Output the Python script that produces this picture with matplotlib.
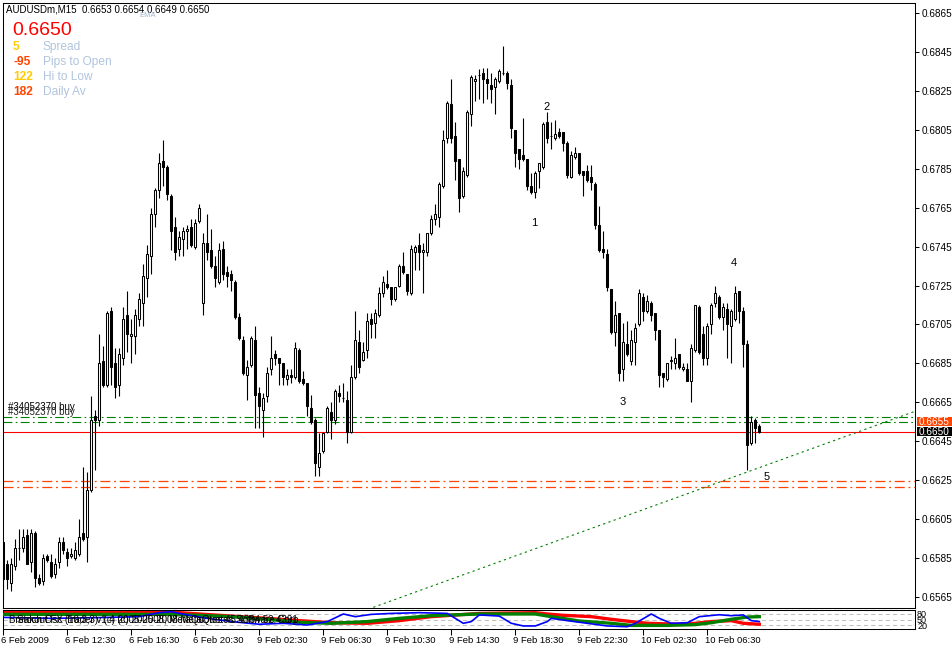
import matplotlib
matplotlib.use("Agg")
import matplotlib.pyplot as plt
import matplotlib.transforms as mtransforms
from matplotlib.patches import Rectangle
import numpy as np

plt.rcParams['font.family'] = ['Liberation Sans', 'DejaVu Sans']

# AUDUSDm M15 candles (bar 0 = 6 Feb 2009 08:30)
opens = [
    0.6593, 0.6582, 0.6572, 0.6581, 0.6590, 0.6590, 0.6597, 0.6583, 0.6598, 0.6575,
    0.6573, 0.6586, 0.6583, 0.6577, 0.6583, 0.6593, 0.6588, 0.6586, 0.6585, 0.6587,
    0.6598, 0.6596, 0.6620, 0.6658, 0.6656, 0.6686, 0.6674, 0.6712, 0.6685, 0.6674,
    0.6688, 0.6710, 0.6699, 0.6699, 0.6708, 0.6716, 0.6729, 0.6740, 0.6762, 0.6774,
    0.6789, 0.6786, 0.6771, 0.6755, 0.6744, 0.6749, 0.6753, 0.6755, 0.6745, 0.6758,
    0.6716, 0.6747, 0.6743, 0.6735, 0.6727, 0.6744, 0.6732, 0.6731, 0.6727, 0.6709,
    0.6697, 0.6679, 0.6684, 0.6697, 0.6670, 0.6661, 0.6668, 0.6682, 0.6690, 0.6688,
    0.6685, 0.6677, 0.6679, 0.6678, 0.6692, 0.6677, 0.6675, 0.6662, 0.6656, 0.6632,
    0.6640, 0.6650, 0.6660, 0.6656, 0.6670, 0.6667, 0.6666, 0.6650, 0.6678, 0.6696,
    0.6687, 0.6692, 0.6708, 0.6706, 0.6710, 0.6721, 0.6726, 0.6724, 0.6718, 0.6725,
    0.6735, 0.6731, 0.6721, 0.6742, 0.6746, 0.6742, 0.6742, 0.6752, 0.6759, 0.6760,
    0.6776, 0.6801, 0.6818, 0.6802, 0.6790, 0.6771, 0.6782, 0.6813, 0.6830, 0.6833,
    0.6834, 0.6831, 0.6828, 0.6827, 0.6830, 0.6834, 0.6834, 0.6828, 0.6805, 0.6795,
    0.6792, 0.6790, 0.6776, 0.6773, 0.6784, 0.6786, 0.6809, 0.6802, 0.6801, 0.6804,
    0.6804, 0.6798, 0.6781, 0.6791, 0.6793, 0.6784, 0.6784, 0.6781, 0.6777, 0.6756,
    0.6744, 0.6741, 0.6723, 0.6701, 0.6711, 0.6682, 0.6695, 0.6686, 0.6696, 0.6705,
    0.6719, 0.6712, 0.6716, 0.6711, 0.6702, 0.6680, 0.6677, 0.6686, 0.6685, 0.6690,
    0.6682, 0.6682, 0.6676, 0.6692, 0.6714, 0.6700, 0.6688, 0.6705, 0.6716, 0.6719,
    0.6709, 0.6713, 0.6704, 0.6708, 0.6722, 0.6712, 0.6695, 0.6644, 0.6656, 0.6653]
highs = [
    0.6593, 0.6584, 0.6585, 0.6595, 0.6600, 0.6600, 0.6600, 0.6600, 0.6599, 0.6577,
    0.6587, 0.6587, 0.6587, 0.6585, 0.6596, 0.6596, 0.6590, 0.6590, 0.6593, 0.6605,
    0.6632, 0.6629, 0.6668, 0.6661, 0.6700, 0.6694, 0.6712, 0.6714, 0.6693, 0.6693,
    0.6714, 0.6722, 0.6708, 0.6713, 0.6721, 0.6736, 0.6746, 0.6765, 0.6775, 0.6793,
    0.6800, 0.6787, 0.6772, 0.6760, 0.6753, 0.6755, 0.6756, 0.6759, 0.6759, 0.6767,
    0.6752, 0.6762, 0.6754, 0.6740, 0.6747, 0.6748, 0.6735, 0.6733, 0.6728, 0.6711,
    0.6699, 0.6687, 0.6699, 0.6704, 0.6673, 0.6670, 0.6683, 0.6699, 0.6692, 0.6688,
    0.6685, 0.6682, 0.6682, 0.6696, 0.6693, 0.6681, 0.6675, 0.6669, 0.6657, 0.6649,
    0.6650, 0.6663, 0.6665, 0.6672, 0.6674, 0.6675, 0.6671, 0.6684, 0.6712, 0.6702,
    0.6696, 0.6711, 0.6711, 0.6713, 0.6724, 0.6730, 0.6733, 0.6724, 0.6724, 0.6736,
    0.6742, 0.6731, 0.6746, 0.6746, 0.6752, 0.6747, 0.6752, 0.6761, 0.6767, 0.6778,
    0.6805, 0.6820, 0.6831, 0.6809, 0.6790, 0.6786, 0.6815, 0.6833, 0.6833, 0.6836,
    0.6837, 0.6837, 0.6834, 0.6832, 0.6836, 0.6848, 0.6835, 0.6831, 0.6805, 0.6795,
    0.6811, 0.6790, 0.6783, 0.6784, 0.6788, 0.6809, 0.6814, 0.6809, 0.6810, 0.6806,
    0.6804, 0.6799, 0.6794, 0.6796, 0.6793, 0.6784, 0.6787, 0.6787, 0.6778, 0.6766,
    0.6753, 0.6744, 0.6723, 0.6717, 0.6711, 0.6706, 0.6707, 0.6702, 0.6706, 0.6723,
    0.6721, 0.6720, 0.6717, 0.6711, 0.6702, 0.6680, 0.6685, 0.6689, 0.6698, 0.6690,
    0.6685, 0.6685, 0.6695, 0.6715, 0.6715, 0.6704, 0.6706, 0.6716, 0.6725, 0.6720,
    0.6716, 0.6716, 0.6713, 0.6725, 0.6722, 0.6714, 0.6697, 0.6658, 0.6657, 0.6654]
lows = [
    0.6564, 0.6569, 0.6568, 0.6579, 0.6584, 0.6588, 0.6582, 0.6578, 0.6570, 0.6571,
    0.6571, 0.6583, 0.6575, 0.6575, 0.6580, 0.6587, 0.6581, 0.6585, 0.6584, 0.6586,
    0.6594, 0.6583, 0.6619, 0.6630, 0.6653, 0.6673, 0.6673, 0.6674, 0.6667, 0.6668,
    0.6684, 0.6691, 0.6685, 0.6690, 0.6704, 0.6704, 0.6719, 0.6731, 0.6755, 0.6770,
    0.6776, 0.6769, 0.6743, 0.6738, 0.6740, 0.6740, 0.6744, 0.6745, 0.6744, 0.6757,
    0.6710, 0.6738, 0.6734, 0.6724, 0.6726, 0.6728, 0.6724, 0.6722, 0.6708, 0.6697,
    0.6679, 0.6666, 0.6683, 0.6652, 0.6652, 0.6647, 0.6665, 0.6679, 0.6684, 0.6674,
    0.6674, 0.6674, 0.6675, 0.6677, 0.6675, 0.6674, 0.6658, 0.6654, 0.6627, 0.6627,
    0.6639, 0.6649, 0.6646, 0.6654, 0.6665, 0.6665, 0.6644, 0.6649, 0.6677, 0.6680,
    0.6686, 0.6688, 0.6698, 0.6698, 0.6709, 0.6719, 0.6723, 0.6715, 0.6717, 0.6724,
    0.6731, 0.6720, 0.6720, 0.6733, 0.6733, 0.6721, 0.6740, 0.6751, 0.6756, 0.6755,
    0.6775, 0.6798, 0.6798, 0.6779, 0.6763, 0.6770, 0.6781, 0.6807, 0.6820, 0.6821,
    0.6819, 0.6821, 0.6819, 0.6813, 0.6829, 0.6833, 0.6826, 0.6801, 0.6786, 0.6785,
    0.6789, 0.6774, 0.6772, 0.6770, 0.6775, 0.6785, 0.6798, 0.6795, 0.6800, 0.6801,
    0.6794, 0.6780, 0.6780, 0.6790, 0.6782, 0.6771, 0.6778, 0.6774, 0.6754, 0.6742,
    0.6739, 0.6722, 0.6700, 0.6694, 0.6676, 0.6676, 0.6689, 0.6684, 0.6684, 0.6704,
    0.6707, 0.6711, 0.6707, 0.6697, 0.6673, 0.6673, 0.6676, 0.6682, 0.6682, 0.6682,
    0.6681, 0.6676, 0.6665, 0.6691, 0.6690, 0.6684, 0.6684, 0.6700, 0.6714, 0.6708,
    0.6702, 0.6688, 0.6685, 0.6707, 0.6706, 0.6683, 0.6630, 0.6643, 0.6644, 0.6649]
closes = [
    0.6574, 0.6574, 0.6582, 0.6590, 0.6590, 0.6596, 0.6582, 0.6598, 0.6575, 0.6572,
    0.6585, 0.6584, 0.6576, 0.6582, 0.6593, 0.6589, 0.6585, 0.6587, 0.6589, 0.6596,
    0.6595, 0.6620, 0.6656, 0.6656, 0.6685, 0.6674, 0.6711, 0.6683, 0.6673, 0.6690,
    0.6708, 0.6700, 0.6700, 0.6710, 0.6718, 0.6730, 0.6741, 0.6762, 0.6774, 0.6788,
    0.6786, 0.6772, 0.6753, 0.6742, 0.6750, 0.6753, 0.6754, 0.6746, 0.6757, 0.6765,
    0.6747, 0.6742, 0.6735, 0.6729, 0.6743, 0.6731, 0.6730, 0.6728, 0.6709, 0.6698,
    0.6680, 0.6683, 0.6698, 0.6669, 0.6663, 0.6667, 0.6680, 0.6688, 0.6688, 0.6685,
    0.6678, 0.6679, 0.6678, 0.6693, 0.6676, 0.6675, 0.6663, 0.6655, 0.6634, 0.6639,
    0.6649, 0.6662, 0.6656, 0.6671, 0.6668, 0.6667, 0.6650, 0.6678, 0.6697, 0.6683,
    0.6691, 0.6707, 0.6705, 0.6711, 0.6721, 0.6727, 0.6724, 0.6718, 0.6724, 0.6735,
    0.6732, 0.6722, 0.6744, 0.6745, 0.6742, 0.6743, 0.6752, 0.6759, 0.6762, 0.6777,
    0.6800, 0.6819, 0.6801, 0.6789, 0.6770, 0.6784, 0.6814, 0.6832, 0.6831, 0.6833,
    0.6831, 0.6829, 0.6826, 0.6831, 0.6835, 0.6834, 0.6829, 0.6806, 0.6793, 0.6790,
    0.6790, 0.6776, 0.6773, 0.6783, 0.6788, 0.6808, 0.6801, 0.6802, 0.6803, 0.6802,
    0.6798, 0.6782, 0.6792, 0.6793, 0.6783, 0.6782, 0.6779, 0.6778, 0.6756, 0.6743,
    0.6742, 0.6724, 0.6701, 0.6710, 0.6680, 0.6696, 0.6690, 0.6697, 0.6703, 0.6721,
    0.6712, 0.6717, 0.6710, 0.6702, 0.6679, 0.6678, 0.6685, 0.6687, 0.6688, 0.6683,
    0.6683, 0.6676, 0.6693, 0.6715, 0.6691, 0.6688, 0.6704, 0.6715, 0.6721, 0.6709,
    0.6714, 0.6705, 0.6712, 0.6721, 0.6712, 0.6695, 0.6643, 0.6655, 0.6652, 0.6650]

time_ticks = [0, 16, 32, 48, 64, 80, 96, 112, 128, 144, 160, 176]
time_labels = ["6 Feb 2009", "6 Feb 12:30", "6 Feb 16:30", "6 Feb 20:30",
               "9 Feb 02:30", "9 Feb 06:30", "9 Feb 10:30", "9 Feb 14:30",
               "9 Feb 18:30", "9 Feb 22:30", "10 Feb 02:30", "10 Feb 06:30"]
price_ticks = [0.6565, 0.6585, 0.6605, 0.6625, 0.6645, 0.6665, 0.6685, 0.6705,
               0.6725, 0.6745, 0.6765, 0.6785, 0.6805, 0.6825, 0.6845, 0.6865]

# order / price lines
green_levels = [0.66575, 0.6655]
red_levels = [0.66245, 0.66215]
bid = 0.6650
ask = 0.6655
trend_x = [92.5, 228.2]
trend_y = [0.65597, 0.66606]

wave_names = ["1", "2", "3", "4", "5"]
wave_x = [132.7, 135.7, 154.75, 182.75, 190.75]
wave_y = [0.67573, 0.68169, 0.66653, 0.67367, 0.66268]

# oscillator in the bottom panel
red_bars = [0, 44, 49, 57, 66, 74, 82, 91, 99, 107, 119, 133, 136, 140, 147, 152,
            157, 161, 169, 173, 177, 182, 185, 189]
red_vals = [86, 86, 79, 68, 56, 44, 33, 30, 44, 65, 82, 86, 79, 72, 65, 51,
            39, 30, 25, 30, 39, 44, 30, 25]
green_bars = [0, 40, 49, 57, 66, 74, 82, 91, 99, 107, 119, 133, 137, 144, 152, 157,
              166, 173, 177, 182, 186, 189]
green_vals = [77, 77, 72, 65, 51, 35, 30, 39, 56, 70, 79, 79, 65, 42, 30, 19,
              19, 23, 33, 51, 63, 65]
blue_bars = [0, 12, 24, 34, 39, 42, 46, 51, 57, 64, 70, 76, 81, 85, 88, 92, 97, 104,
             111, 115, 117, 119, 124, 127, 130, 133, 136, 137, 141, 146, 151, 156,
             158, 162, 164, 167, 171, 174, 179, 182, 185, 187, 189]
blue_vals = [61, 56, 60, 65, 86, 91, 74, 56, 39, 25, 30, 21, 39, 79, 65, 77, 82, 86,
             82, 30, 39, 74, 68, 30, 16, 16, 39, 56, 44, 30, 16, 12,
             30, 79, 56, 30, 33, 65, 75, 70, 74, 44, 39]
osc_levels = [20, 50, 80]

W, H = 953, 646
fig = plt.figure(figsize=(W / 100, H / 100), dpi=100)


def box(l, t, r, b):
    return [l / W, 1 - b / H, (r - l) / W, (b - t) / H]


ax = fig.add_axes(box(3, 3, 915, 608))
ax2 = fig.add_axes(box(3, 610, 915, 629))
xlim = (-0.075, 227.925)

# candles
bars = np.arange(len(opens))
o = np.array(opens)
c = np.array(closes)
ax.vlines(bars, lows, highs, color="black", lw=0.8, zorder=3)
ax.bar(bars, np.abs(c - o), bottom=np.minimum(o, c), width=0.5,
       color=np.where(c >= o, "white", "black"), edgecolor="black",
       linewidth=0.75, zorder=4)

dashdot = (0, (8, 3, 1.5, 3))
for lv in green_levels:
    ax.axhline(lv, color="#008000", lw=0.8, ls=dashdot, zorder=2)
for lv in red_levels:
    ax.axhline(lv, color="#ff4500", lw=0.9, ls=dashdot, zorder=2)
ax.axhline(bid, color="#ff0000", lw=0.8, zorder=2)
ax.plot(trend_x, trend_y, color="#008000", lw=0.8, ls=(0, (2, 3)), zorder=2)

for name, wx, wy in zip(wave_names, wave_x, wave_y):
    ax.text(wx, wy, name, fontsize=8, ha="center", va="center")

ax.text(1.2, 0.66625, "#34052370 buy", fontsize=7, va="center")
ax.text(1.2, 0.66600, "#34052370 buy", fontsize=7, va="center", color="#222222")

ax.set_xlim(*xlim)
ax.set_ylim(0.655935, 0.687014)
ax.set_xticks([])
ax.yaxis.tick_right()
ax.set_yticks(price_ticks)
ax.set_yticklabels([f"{p:.4f}" for p in price_ticks])
ax.tick_params(axis="y", length=3, width=0.75, pad=1.5, labelsize=7.2)
for s in ax.spines.values():
    s.set_linewidth(0.75)

# price boxes on the right scale
tr = mtransforms.blended_transform_factory(fig.transFigure, ax.transData)
for price, col in [(ask, "#ff4500"), (bid, "black")]:
    fig.add_artist(Rectangle((917 / W, price - 0.00024), 35 / W, 0.00048,
                             transform=tr, facecolor=col, edgecolor="none", zorder=5))
    fig.text(919 / W, price, f"{price:.4f}", transform=tr, color="white",
             fontsize=7.2, va="center", zorder=6)

# oscillator panel
for lv in osc_levels:
    ax2.axhline(lv, color="#c0c0c0", lw=0.75, ls=(0, (4, 3)), zorder=1)
ax2.plot(red_bars, red_vals, color="#ff0000", lw=2.4, zorder=2)
ax2.plot(green_bars, green_vals, color="#008000", lw=2.4, zorder=3)
ax2.plot(blue_bars, blue_vals, color="#0000ff", lw=1.2, zorder=4)
ax2.text(1.5, 47, "Breakout FX Trader v1.4 (c) 2005-2008 MetaQuotes Software Corp.",
         fontsize=7, va="center", zorder=5)
ax2.text(3.5, 45, "Stoch Osc (10,3,3)  (c) 2005-2008, MetaQuotes 45.4384 52.4391",
         fontsize=7, va="center", zorder=5)
ax2.set_xlim(*xlim)
ax2.set_ylim(0, 100)
ax2.yaxis.tick_right()
ax2.set_yticks(osc_levels)
ax2.set_yticklabels(["20", "50", "80"])
ax2.tick_params(axis="y", length=0, pad=1.5, labelsize=6.5)
ax2.set_xticks(time_ticks)
ax2.set_xticklabels(time_labels)
ax2.tick_params(axis="x", length=4, width=0.75, pad=1, labelsize=6.8)
shift = mtransforms.ScaledTranslation(-2 / 100, 0, fig.dpi_scale_trans)
for lab in ax2.get_xticklabels():
    lab.set_ha("left")
    lab.set_transform(lab.get_transform() + shift)
for s in ax2.spines.values():
    s.set_linewidth(0.75)

# header texts
def px(x, y):
    return x / W, 1 - y / H


fig.text(*px(6, 10), "AUDUSDm,M15  0.6653 0.6654 0.6649 0.6650", fontsize=7, va="center")
fig.text(*px(148, 15.5), "EMA", fontsize=5.5, color="#a0b4d0", ha="center", va="center")
fig.text(*px(12, 30.5), "0.6650", fontsize=14, color="#ff0000", va="center")
info_vals = ["5", "-95", "122", "182"]
info_cols = ["#ffcc00", "#ff4500", "#ffcc00", "#ff4500"]
info_names = ["Spread", "Pips to Open", "Hi to Low", "Daily Av"]
for k, (v, col, nm) in enumerate(zip(info_vals, info_cols, info_names)):
    y = 46.7 + 15 * k
    fig.text(*px(13, y), v, fontsize=8.6, color=col, va="center", fontweight="bold")
    fig.text(*px(43, y), nm, fontsize=8.6, color="#b0c4de", va="center")

fig.savefig("out.png", dpi=100)
